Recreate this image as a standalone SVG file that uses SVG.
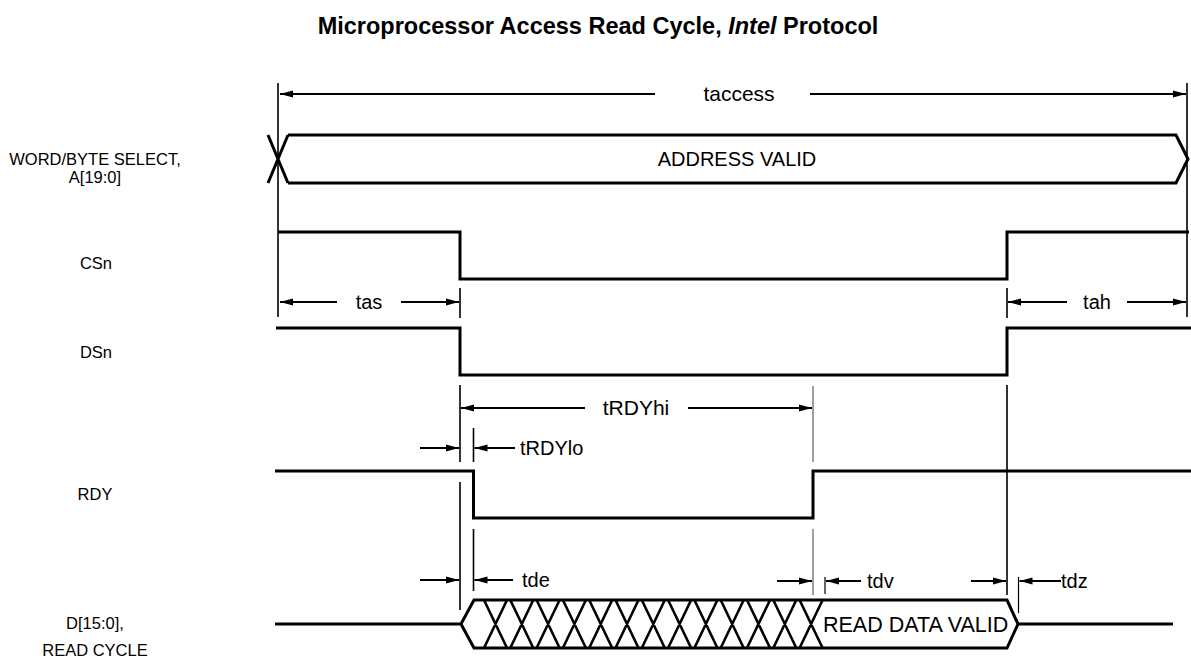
<svg xmlns="http://www.w3.org/2000/svg" width="1191" height="671" viewBox="0 0 1191 671">
<style>
text{font-family:"Liberation Sans",Arial,sans-serif;fill:#000}
.lbl{font-size:16.5px;text-anchor:middle}
.t{font-size:20px}
.sig{fill:none;stroke:#000;stroke-width:3;stroke-linejoin:miter}
.ref{stroke:#000;stroke-width:1.6;fill:none}
.gray{stroke:#888;stroke-width:1.6;fill:none}
.thin{stroke:#000;stroke-width:1.2;fill:none}
.dimA{stroke:#000;stroke-width:2;fill:none;marker-end:url(#ah)}
</style>
<defs>
<marker id="ah" markerWidth="14" markerHeight="8" refX="13" refY="4" orient="auto" markerUnits="userSpaceOnUse">
<path d="M0,0.5 L13,4 L0,7.5 Z" fill="#000"/>
</marker>
</defs>
<rect width="1191" height="671" fill="#fff"/>
<text x="598" y="34" style="font-size:23.5px;font-weight:bold;text-anchor:middle">Microprocessor Access Read Cycle, <tspan font-style="italic">Intel</tspan> Protocol</text>

<g id="label-addr"><text class="lbl" x="95" y="165">WORD/BYTE SELECT,</text><text class="lbl" x="95" y="183">A[19:0]</text></g>
<g id="label-csn"><text class="lbl" x="96" y="269">CSn</text></g>
<g id="label-dsn"><text class="lbl" x="96" y="358">DSn</text></g>
<g id="label-rdy"><text class="lbl" x="95" y="500">RDY</text></g>
<g id="label-d"><text class="lbl" x="95" y="629">D[15:0],</text><text class="lbl" x="95" y="656">READ CYCLE</text></g>

<g id="sig-addr">
<path class="sig" d="M268,135 L288,183 M268,183 L288,135 M288,135 H1176 L1188,159 L1176,183 H288"/>
<text class="t" x="737" y="166" text-anchor="middle">ADDRESS VALID</text>
</g>
<g id="sig-csn"><path class="sig" d="M278,232 H460 V279 H1007 V232 H1189"/></g>
<g id="sig-dsn"><path class="sig" d="M276,328 H460 V375 H1007 V328 H1191"/></g>
<g id="sig-rdy"><path class="sig" d="M275,471 H473.5 V518 H813 V471 H1191"/></g>
<g id="sig-d">
<path class="sig" d="M275,624 H461 L474,600 H1007 L1018,624 L1007,648 H474 L461,624 M1018,624 H1173"/>
<path class="sig" style="stroke-width:2.6" d="M484,600 L507,648 M507,600 L484,648 M510.3,600 L533.3,648 M533.3,600 L510.3,648 M536.6,600 L559.6,648 M559.6,600 L536.6,648 M562.9,600 L585.9,648 M585.9,600 L562.9,648 M589.2,600 L612.2,648 M612.2,600 L589.2,648 M615.5,600 L638.5,648 M638.5,600 L615.5,648 M641.8,600 L664.8,648 M664.8,600 L641.8,648 M668.1,600 L691.1,648 M691.1,600 L668.1,648 M694.4,600 L717.4,648 M717.4,600 L694.4,648 M720.7,600 L743.7,648 M743.7,600 L720.7,648 M747,600 L770,648 M770,600 L747,648 M773.3,600 L796.3,648 M796.3,600 L773.3,648 M799.6,600 L822.6,648 M822.6,600 L799.6,648"/>
<text x="823" y="632" style="font-size:21.5px">READ DATA VALID</text>
</g>

<g id="connectors">
<path class="ref" d="M278,83 V317 M1187,83 V317 M460,288 V318 M460,385 V462 M460,482 V610 M473.5,428 V462 M473.5,529 V591 M1007,288 V318 M1007,385 V595"/>
<path class="gray" d="M813,386 V462 M813,529 V595"/>
<path class="thin" d="M825,577 V594 M1018.5,577 V613"/>
<path class="dimA" d="M655,94 H280"/><path class="dimA" d="M810,94 H1186"/>
<text x="739" y="101" style="font-size:21px" text-anchor="middle">taccess</text>
<path class="dimA" d="M337,302 H280"/><path class="dimA" d="M401,302 H459"/>
<text class="t" x="369" y="309" text-anchor="middle">tas</text>
<path class="dimA" d="M1067,302 H1008"/><path class="dimA" d="M1127,302 H1186"/>
<text class="t" x="1097" y="309" text-anchor="middle">tah</text>
<path class="dimA" d="M585,408 H461"/><path class="dimA" d="M688,408 H812"/>
<text x="636" y="415" style="font-size:21px" text-anchor="middle">tRDYhi</text>
<path class="dimA" d="M420,448 H459"/><path class="dimA" d="M515,448 H474.5"/>
<text class="t" x="520" y="455">tRDYlo</text>
<path class="dimA" d="M420,580 H459"/><path class="dimA" d="M513,580 H474.5"/>
<text class="t" x="522" y="587">tde</text>
<path class="dimA" d="M777,581 H812"/><path class="dimA" d="M861,581 H826"/>
<text class="t" x="867" y="588">tdv</text>
<path class="dimA" d="M971,581 H1006"/><path class="dimA" d="M1061,581 H1019.5"/>
<text class="t" x="1061" y="588">tdz</text>
</g>
</svg>
